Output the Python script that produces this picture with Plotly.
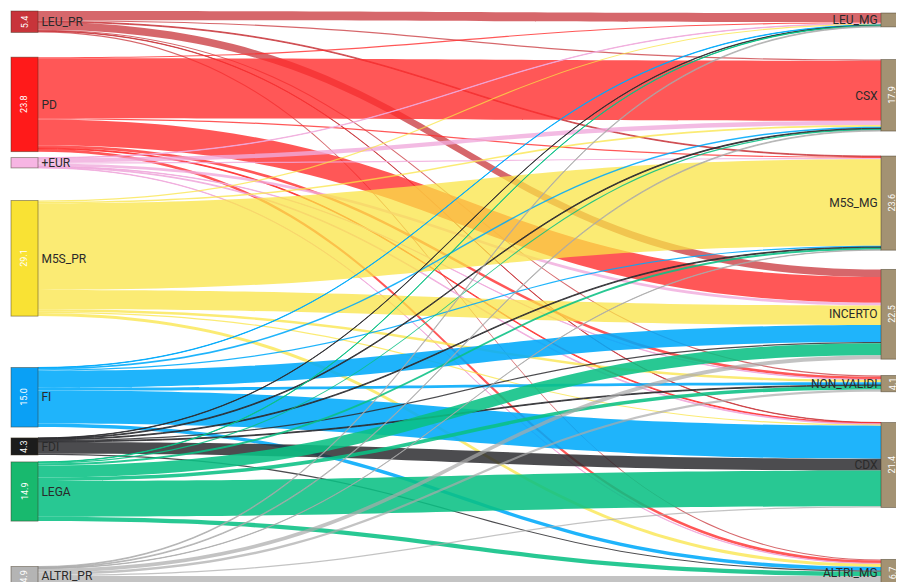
import plotly.graph_objects as go

# ---------------- data ----------------
sources = ["LEU_PR", "PD", "+EUR", "M5S_PR", "FI", "FDI", "LEGA", "ALTRI_PR"]
targets = ["LEU_MG", "CSX", "M5S_MG", "INCERTO", "NON_VALIDI", "CDX", "ALTRI_MG"]

source_totals = [5.4, 23.8, 2.6, 29.1, 15.0, 4.3, 14.9, 4.9]
target_totals = [3.5, 17.9, 23.6, 22.5, 4.1, 21.4, 6.7]

# flows: rows = sources, columns = targets
flow_LEU_PR   = [2.3, 0.3, 0.2, 1.9, 0.3, 0.1, 0.3]
flow_PD       = [0.3, 15.1, 0.3, 6.5, 0.7, 0.2, 0.7]
flow_EUR      = [0.1, 1.1, 0.3, 0.7, 0.1, 0.2, 0.1]
flow_M5S_PR   = [0.3, 0.4, 21.8, 4.9, 0.6, 0.3, 0.8]
flow_FI       = [0.1, 0.4, 0.3, 4.3, 0.7, 8.3, 0.9]
flow_FDI      = [0.1, 0.2, 0.2, 0.3, 0.2, 3.0, 0.3]
flow_LEGA     = [0.1, 0.3, 0.5, 3.0, 0.9, 9.0, 1.1]
flow_ALTRI_PR = [0.2, 0.2, 0.1, 1.0, 0.6, 0.3, 2.5]
flows = [flow_LEU_PR, flow_PD, flow_EUR, flow_M5S_PR, flow_FI, flow_FDI, flow_LEGA, flow_ALTRI_PR]

# ---------------- style / layout ----------------
src_node_colors = ["#c8343a", "#ff1a1a", "#f7b5e3", "#f9e234", "#0aa0f5", "#1c1c1c", "#18b96e", "#b4b4b4"]
src_link_colors = ["rgba(200,52,58,0.75)", "rgba(255,45,45,0.8)", "rgba(240,170,220,0.8)",
                   "rgba(250,228,70,0.75)", "rgba(0,170,250,0.88)", "rgba(45,45,48,0.85)",
                   "rgba(10,192,132,0.88)", "rgba(170,170,170,0.7)"]
tgt_node_color = "#a39273"

W, H = 904, 582
ML, MR, MT, MB = 3, 0, 3, 4
PW, PH = W - ML - MR, H - MT - MB
THICK = 27
PAD = 25.4
RIGHT_NODE_LEFT = 870          # left edge of right column inside the plot area
left_gaps = [0, 25, 6, 33, 52, 11, 7, 46]
right_gaps = [2, 34, 26, 20, 17, 32, 54]

# node values as d3-sankey computes them
src_vals = [sum(r) for r in flows]
tgt_vals = [sum(flows[i][j] for i in range(len(sources))) for j in range(len(targets))]
ky = min((PH - (len(sources) - 1) * PAD) / sum(src_vals),
         (PH - (len(targets) - 1) * PAD) / sum(tgt_vals))


def column_centers(vals, gaps):
    heights = [v * ky for v in vals]
    scale = (PH - sum(heights) - gaps[0]) / sum(gaps[1:])
    ys, y = [], gaps[0]
    for i, h in enumerate(heights):
        if i > 0:
            y += gaps[i] * scale
        ys.append((y + h / 2) / PH)
        y += h
    return ys


left_y = column_centers(src_vals, left_gaps)
right_y = column_centers(tgt_vals, right_gaps)
left_x = (THICK / 2) / PW
right_x = (RIGHT_NODE_LEFT + THICK / 2) / PW

labels = sources + targets
node_x = [left_x] * len(sources) + [right_x] * len(targets)
node_y = left_y + right_y
node_colors = src_node_colors + [tgt_node_color] * len(targets)

link_s, link_t, link_v, link_c = [], [], [], []
for i, row in enumerate(flows):
    for j, v in enumerate(row):
        link_s.append(i)
        link_t.append(len(sources) + j)
        link_v.append(v)
        link_c.append(src_link_colors[i])

fig = go.Figure(go.Sankey(
    arrangement="fixed",
    node=dict(
        label=labels,
        x=node_x,
        y=node_y,
        pad=PAD,
        thickness=THICK,
        color=node_colors,
        line=dict(color="rgba(60,50,30,0.55)", width=0.8),
        hoverinfo="none",
    ),
    link=dict(source=link_s, target=link_t, value=link_v, color=link_c, hoverinfo="none"),
    textfont=dict(family="Roboto", size=12, color="#2a2a2a", shadow="none"),
))

# value labels inside nodes
annotations = []
all_totals = source_totals + target_totals
visible_right_center = (RIGHT_NODE_LEFT + (PW - RIGHT_NODE_LEFT - 8) / 2) / PW
for k, tot in enumerate(all_totals):
    if tot < 4:
        continue
    annotations.append(dict(
        x=node_x[k] if k < len(sources) else visible_right_center,
        y=1 - node_y[k],
        xref="paper", yref="paper",
        text=f"{tot:.1f}", textangle=-90, showarrow=False,
        font=dict(family="Roboto", size=9, color="white"),
        xanchor="center", yanchor="middle",
    ))

fig.update_layout(
    width=W, height=H,
    margin=dict(l=ML, r=MR, t=MT, b=MB),
    paper_bgcolor="white",
    annotations=annotations,
)

fig.write_html("out.html")
